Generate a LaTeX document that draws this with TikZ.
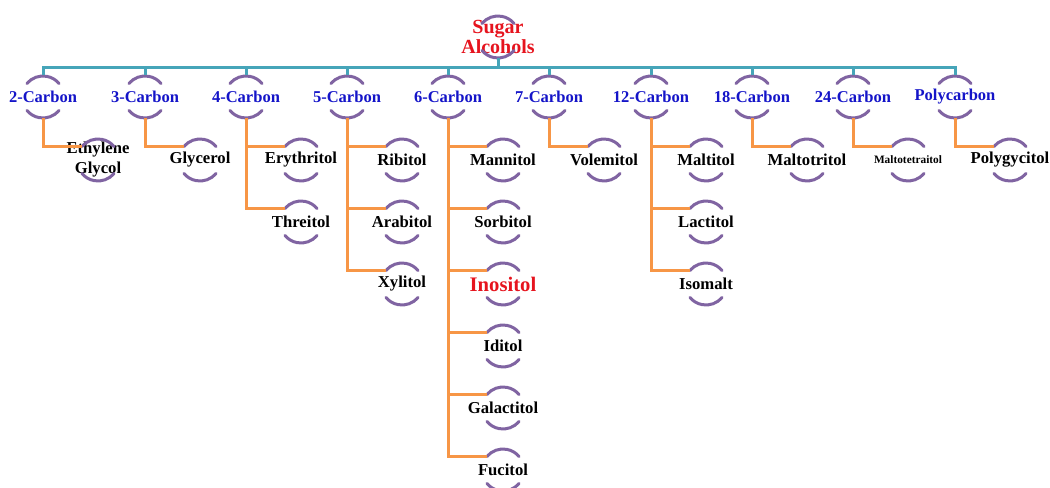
\documentclass[tikz,border=0pt]{standalone}
\usepackage{fontspec}
\setmainfont{Liberation Serif}

\definecolor{ringpurple}{RGB}{128,100,162}
\definecolor{barteal}{RGB}{70,165,185}
\definecolor{branchorange}{RGB}{247,150,70}
\definecolor{headblue}{RGB}{20,20,200}
\definecolor{headred}{RGB}{230,20,30}

\tikzset{every picture/.style={line width=0.75pt}}
\tikzset{
  ring/.style={circle, minimum size=31.5pt, inner sep=0pt},
  ringarc/.style={draw=ringpurple, line width=2.25pt, line cap=round},
  rootlabel/.style={font=\bfseries\fontsize{15}{15}\selectfont, text=headred, align=center, inner sep=0pt},
  carbonlabel/.style={font=\bfseries\fontsize{12.4}{15}\selectfont, text=headblue, inner sep=0pt},
  polyollabel/.style={font=\bfseries\fontsize{12.5}{15}\selectfont, align=center, inner sep=0pt},
  tealline/.style={draw=barteal, line width=2.25pt},
  orangeline/.style={draw=branchorange, line width=2.25pt},
}

\begin{document}
\begin{tikzpicture}[x=0.75pt,y=0.75pt,yscale=-1,xscale=1]
	\useasboundingbox (0,0) rectangle (1050,488);

	% root
	\node[ring, label={[rootlabel]center:Sugar\\Alcohols}] (root) at (498,37) {};
	\coordinate (bar) at (498,68);

	% carbon groups
	\node[ring, label={[carbonlabel]center:2-Carbon}] (c2) at (43,97) {};
	\node[ring, label={[carbonlabel]center:3-Carbon}] (c3) at (145,97) {};
	\node[ring, label={[carbonlabel]center:4-Carbon}] (c4) at (246,97) {};
	\node[ring, label={[carbonlabel]center:5-Carbon}] (c5) at (347,97) {};
	\node[ring, label={[carbonlabel]center:6-Carbon}] (c6) at (448,97) {};
	\node[ring, label={[carbonlabel]center:7-Carbon}] (c7) at (549,97) {};
	\node[ring, label={[carbonlabel]center:12-Carbon}] (c12) at (651,97) {};
	\node[ring, label={[carbonlabel]center:18-Carbon}] (c18) at (752,97) {};
	\node[ring, label={[carbonlabel]center:24-Carbon}] (c24) at (853,97) {};
	\node[ring, label={[carbonlabel]center:Polycarbon}] (cpoly) at (955,97) {};

	% sugar alcohols
	\node[ring, label={[polyollabel]center:Ethylene\\Glycol}] (ethylene) at (98,160) {};
	\node[ring, label={[polyollabel]center:Glycerol}] (glycerol) at (200,160) {};
	\node[ring, label={[polyollabel]center:Erythritol}] (erythritol) at (301,160) {};
	\node[ring, label={[polyollabel]center:Threitol}] (threitol) at (301,222) {};
	\node[ring, label={[polyollabel]center:Ribitol}] (ribitol) at (402,160) {};
	\node[ring, label={[polyollabel]center:Arabitol}] (arabitol) at (402,222) {};
	\node[ring, label={[polyollabel]center:Xylitol}] (xylitol) at (402,284) {};
	\node[ring, label={[polyollabel]center:Mannitol}] (mannitol) at (503,160) {};
	\node[ring, label={[polyollabel]center:Sorbitol}] (sorbitol) at (503,222) {};
	\node[ring, label={[polyollabel, text=headred, font=\bfseries\fontsize{15.5}{15}\selectfont]center:Inositol}] (inositol) at (503,284) {};
	\node[ring, label={[polyollabel]center:Iditol}] (iditol) at (503,346) {};
	\node[ring, label={[polyollabel]center:Galactitol}] (galactitol) at (503,408) {};
	\node[ring, label={[polyollabel]center:Fucitol}] (fucitol) at (503,470) {};
	\node[ring, label={[polyollabel]center:Volemitol}] (volemitol) at (604,160) {};
	\node[ring, label={[polyollabel]center:Maltitol}] (maltitol) at (706,160) {};
	\node[ring, label={[polyollabel]center:Lactitol}] (lactitol) at (706,222) {};
	\node[ring, label={[polyollabel]center:Isomalt}] (isomalt) at (706,284) {};
	\node[ring, label={[polyollabel]center:Maltotritol}] (maltotritol) at (807,160) {};
	\node[ring, label={[polyollabel, font=\bfseries\fontsize{8.5}{10}\selectfont]center:Maltotetraitol}] (maltotetraitol) at (908,160) {};
	\node[ring, label={[polyollabel]center:Polygycitol}] (polygycitol) at (1010,160) {};

	%Shape: Arc -- upper and lower arc round every node
	\foreach \n in {root,c2,c3,c4,c5,c6,c7,c12,c18,c24,cpoly,
	                ethylene,glycerol,erythritol,threitol,ribitol,arabitol,xylitol,
	                mannitol,sorbitol,inositol,iditol,galactitol,fucitol,volemitol,
	                maltitol,lactitol,isomalt,maltotritol,maltotetraitol,polygycitol}
	  \draw[ringarc] ([shift={(40:21)}]\n.center) arc[start angle=40, end angle=140, radius=21]
	                 ([shift={(220:21)}]\n.center) arc[start angle=220, end angle=320, radius=21];

	%Straight Lines -- top bar
	\draw[tealline] (root.south) -- (bar);
	\draw[tealline] (bar) -| (c2.north);
	\draw[tealline] (bar) -| (c3.north);
	\draw[tealline] (bar) -| (c4.north);
	\draw[tealline] (bar) -| (c5.north);
	\draw[tealline] (bar) -| (c6.north);
	\draw[tealline] (bar) -| (c7.north);
	\draw[tealline] (bar) -| (c12.north);
	\draw[tealline] (bar) -| (c18.north);
	\draw[tealline] (bar) -| (c24.north);
	\draw[tealline] (bar) -| (cpoly.north);

	%Straight Lines -- branches
	\draw[orangeline] (c2.south) |- (ethylene.140);
	\draw[orangeline] (c3.south) |- (glycerol.140);
	\draw[orangeline] (c4.south) |- (erythritol.140);
	\draw[orangeline] (c4.south) |- (threitol.140);
	\draw[orangeline] (c5.south) |- (ribitol.140);
	\draw[orangeline] (c5.south) |- (arabitol.140);
	\draw[orangeline] (c5.south) |- (xylitol.140);
	\draw[orangeline] (c6.south) |- (mannitol.140);
	\draw[orangeline] (c6.south) |- (sorbitol.140);
	\draw[orangeline] (c6.south) |- (inositol.140);
	\draw[orangeline] (c6.south) |- (iditol.140);
	\draw[orangeline] (c6.south) |- (galactitol.140);
	\draw[orangeline] (c6.south) |- (fucitol.140);
	\draw[orangeline] (c7.south) |- (volemitol.140);
	\draw[orangeline] (c12.south) |- (maltitol.140);
	\draw[orangeline] (c12.south) |- (lactitol.140);
	\draw[orangeline] (c12.south) |- (isomalt.140);
	\draw[orangeline] (c18.south) |- (maltotritol.140);
	\draw[orangeline] (c24.south) |- (maltotetraitol.140);
	\draw[orangeline] (cpoly.south) |- (polygycitol.140);
\end{tikzpicture}
\end{document}
